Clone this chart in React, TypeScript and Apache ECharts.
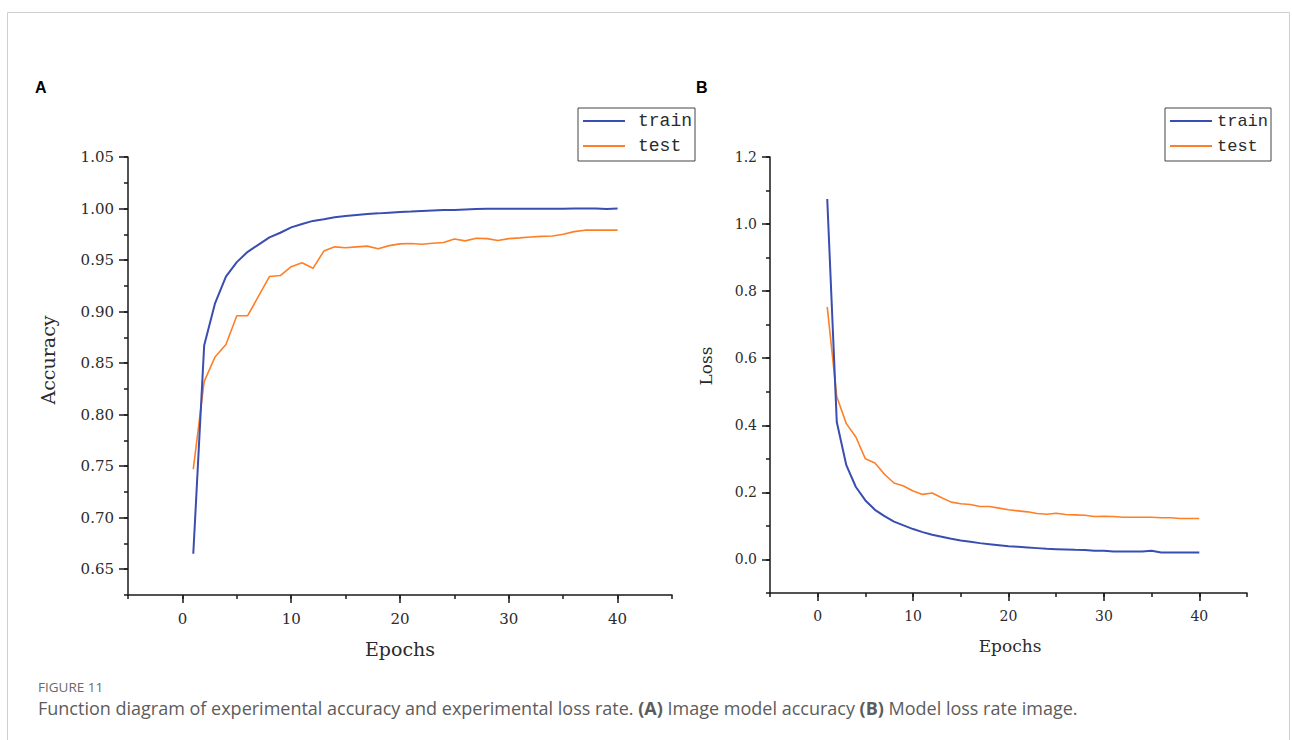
import React, { useEffect, useRef } from "react";
import * as echarts from "echarts";

const epochs = [1, 2, 3, 4, 5, 6, 7, 8, 9, 10, 11, 12, 13, 14, 15, 16, 17, 18, 19, 20, 21, 22, 23, 24, 25, 26, 27, 28, 29, 30, 31, 32, 33, 34, 35, 36, 37, 38, 39, 40];

const accTrain = [0.665, 0.867, 0.908, 0.934, 0.948, 0.958, 0.965, 0.972, 0.9765, 0.9817, 0.985, 0.988, 0.9895, 0.9915, 0.9927, 0.9937, 0.9947, 0.9953, 0.996, 0.9966, 0.997, 0.9975, 0.998, 0.9985, 0.9985, 0.999, 0.9995, 0.9998, 0.9998, 0.9998, 0.9998, 0.9998, 0.9998, 0.9998, 0.9998, 1.0, 1.0, 1.0, 0.9995, 1.0];
const accTest = [0.747, 0.832, 0.856, 0.868, 0.896, 0.896, 0.915, 0.934, 0.935, 0.9436, 0.9474, 0.942, 0.9587, 0.9628, 0.962, 0.9628, 0.9635, 0.961, 0.964, 0.9657, 0.966, 0.9654, 0.9663, 0.967, 0.9705, 0.9686, 0.9712, 0.9708, 0.9689, 0.9708, 0.9715, 0.9724, 0.973, 0.9734, 0.975, 0.9776, 0.979, 0.979, 0.979, 0.979];

const lossTrain = [1.075, 0.41, 0.281, 0.216, 0.176, 0.148, 0.129, 0.113, 0.1015, 0.0906, 0.0816, 0.0736, 0.0677, 0.0617, 0.0567, 0.0527, 0.0487, 0.0457, 0.0427, 0.0397, 0.0378, 0.0358, 0.0338, 0.0318, 0.0308, 0.0298, 0.0288, 0.0279, 0.0259, 0.0259, 0.0239, 0.0239, 0.0239, 0.0239, 0.0259, 0.0209, 0.0209, 0.0209, 0.0209, 0.0209];
const lossTest = [0.753, 0.485, 0.405, 0.365, 0.3, 0.2875, 0.254, 0.228, 0.219, 0.204, 0.194, 0.198, 0.184, 0.171, 0.166, 0.164, 0.158, 0.158, 0.153, 0.148, 0.145, 0.142, 0.137, 0.135, 0.138, 0.134, 0.133, 0.132, 0.128, 0.129, 0.128, 0.126, 0.126, 0.126, 0.126, 0.1244, 0.1244, 0.122, 0.122, 0.122];

const xTickLabels = [0, 10, 20, 30, 40];
const accTickLabels = [0.65, 0.7, 0.75, 0.8, 0.85, 0.9, 0.95, 1.0, 1.05];
const lossTickLabels = [0, 0.2, 0.4, 0.6, 0.8, 1.0, 1.2];

const seriesNames = ["train", "test"];
const panelLabels = ["A", "B"];
const axisTitles = { accY: "Accuracy", lossY: "Loss", x: "Epochs" };
const figureLabel = "FIGURE 11";

const BLUE = "#3a4db0";
const ORANGE = "#ff7f27";
const AXIS = "#1a1a1a";
const LABEL = "#2b2b2b";
const SERIF = "DejaVu Serif";

const pair = (vals: number[]) => epochs.map((e, i) => [e, vals[i]]);

export default function App() {
  const ref = useRef<HTMLDivElement>(null);
  useEffect(() => {
    if (!ref.current) return;
    const chart = echarts.init(ref.current, null, { renderer: "svg" });

    const minorX = (grid: number) => ({
      type: "value",
      gridIndex: grid,
      position: "bottom",
      min: -5,
      max: 45,
      interval: 5,
      axisLine: { show: true, onZero: false, lineStyle: { color: AXIS, width: 1.5 } },
      axisTick: { show: true, length: 4, lineStyle: { color: AXIS, width: 1.5 } },
      axisLabel: { show: false },
      splitLine: { show: false },
    });
    const majorX = (grid: number, fontSize: number) => ({
      type: "value",
      gridIndex: grid,
      position: "bottom",
      offset: 0,
      min: -5,
      max: 45,
      axisLine: { show: false, onZero: false },
      axisTick: { show: true, length: 8, customValues: xTickLabels, lineStyle: { color: AXIS, width: 1.5 } },
      axisLabel: {
        show: true,
        customValues: xTickLabels,
        margin: 16,
        color: LABEL,
        fontFamily: SERIF,
        fontSize,
      },
      splitLine: { show: false },
    });
    const legendBase = (left: number, fontSize: number, textPad: number) => ({
      orient: "vertical",
      left,
      top: 108,
      data: seriesNames,
      icon: "rect",
      itemWidth: 42,
      itemHeight: 2,
      itemGap: 7,
      padding: [4, 3, 6, 5],
      borderColor: "#444",
      borderWidth: 1,
      borderRadius: 0,
      selectedMode: false,
      textStyle: { fontFamily: "Liberation Mono", fontSize, lineHeight: 18, color: LABEL, padding: [0, 0, 0, textPad] },
    });

    const option: any = {
      animation: false,
      backgroundColor: "#ffffff",
      grid: [
        { left: 128, top: 157, width: 544, height: 438 },
        { left: 770, top: 157, width: 477, height: 436 },
      ],
      xAxis: [minorX(0), majorX(0, 15), minorX(1), majorX(1, 14)],
      yAxis: [
        {
          type: "value",
          gridIndex: 0,
          position: "left",
          min: 0.625,
          max: 1.05,
          interval: 0.025,
          axisLine: { show: true, onZero: false, lineStyle: { color: AXIS, width: 1.5 } },
          axisTick: { show: true, length: 4, lineStyle: { color: AXIS, width: 1.5 } },
          axisLabel: { show: false },
          splitLine: { show: false },
        },
        {
          type: "value",
          gridIndex: 0,
          position: "left",
          offset: 0,
          min: 0.625,
          max: 1.05,
          axisLine: { show: false, onZero: false },
          axisTick: { show: true, length: 9, customValues: accTickLabels, lineStyle: { color: AXIS, width: 1.5 } },
          axisLabel: {
            show: true,
            customValues: accTickLabels,
            formatter: (v: number) => v.toFixed(2),
            margin: 14,
            color: LABEL,
            fontFamily: SERIF,
            fontSize: 15,
          },
          splitLine: { show: false },
        },
        {
          type: "value",
          gridIndex: 1,
          position: "left",
          min: -0.1,
          max: 1.2,
          interval: 0.1,
          axisLine: { show: true, onZero: false, lineStyle: { color: AXIS, width: 1.5 } },
          axisTick: { show: true, length: 4, lineStyle: { color: AXIS, width: 1.5 } },
          axisLabel: { show: false },
          splitLine: { show: false },
        },
        {
          type: "value",
          gridIndex: 1,
          position: "left",
          offset: 0,
          min: -0.1,
          max: 1.2,
          axisLine: { show: false, onZero: false },
          axisTick: { show: true, length: 8, customValues: lossTickLabels, lineStyle: { color: AXIS, width: 1.5 } },
          axisLabel: {
            show: true,
            customValues: lossTickLabels,
            formatter: (v: number) => v.toFixed(1),
            margin: 13,
            color: LABEL,
            fontFamily: SERIF,
            fontSize: 14,
          },
          splitLine: { show: false },
        },
      ],
      legend: [legendBase(578, 18, 8), legendBase(1165, 17, 0)],
      series: [
        {
          name: seriesNames[0],
          type: "line",
          xAxisIndex: 0,
          yAxisIndex: 0,
          data: pair(accTrain),
          symbol: "none",
          lineStyle: { color: BLUE, width: 2 },
          itemStyle: { color: BLUE },
          z: 3,
        },
        {
          name: seriesNames[1],
          type: "line",
          xAxisIndex: 0,
          yAxisIndex: 0,
          data: pair(accTest),
          symbol: "none",
          lineStyle: { color: ORANGE, width: 1.6 },
          itemStyle: { color: ORANGE },
          z: 2,
        },
        {
          name: seriesNames[0],
          type: "line",
          xAxisIndex: 2,
          yAxisIndex: 2,
          data: pair(lossTrain),
          symbol: "none",
          lineStyle: { color: BLUE, width: 2 },
          itemStyle: { color: BLUE },
          z: 3,
        },
        {
          name: seriesNames[1],
          type: "line",
          xAxisIndex: 2,
          yAxisIndex: 2,
          data: pair(lossTest),
          symbol: "none",
          lineStyle: { color: ORANGE, width: 1.6 },
          itemStyle: { color: ORANGE },
          z: 2,
        },
      ],
      graphic: [
        {
          type: "rect",
          shape: { x: 7.5, y: 12.5, width: 1282, height: 800 },
          style: { fill: "none", stroke: "#cfcfcf", lineWidth: 1 },
          silent: true,
          z: -10,
        },
        {
          type: "text",
          x: 35,
          y: 79,
          style: { text: panelLabels[0], font: "bold 16px Arial, 'Liberation Sans', sans-serif", fill: "#000" },
        },
        {
          type: "text",
          x: 696,
          y: 79,
          style: { text: panelLabels[1], font: "bold 16px Arial, 'Liberation Sans', sans-serif", fill: "#000" },
        },
        {
          type: "text",
          x: 48,
          y: 360,
          rotation: Math.PI / 2,
          style: { text: axisTitles.accY, font: `19px '${SERIF}'`, fill: LABEL, align: "center", verticalAlign: "middle" },
        },
        {
          type: "text",
          x: 400,
          y: 649,
          style: { text: axisTitles.x, font: `19px '${SERIF}'`, fill: LABEL, align: "center", verticalAlign: "middle" },
        },
        {
          type: "text",
          x: 706,
          y: 366,
          rotation: Math.PI / 2,
          style: { text: axisTitles.lossY, font: `17px '${SERIF}'`, fill: LABEL, align: "center", verticalAlign: "middle" },
        },
        {
          type: "text",
          x: 1010,
          y: 646,
          style: { text: axisTitles.x, font: `17px '${SERIF}'`, fill: LABEL, align: "center", verticalAlign: "middle" },
        },
        {
          type: "text",
          x: 38,
          y: 680,
          style: { text: figureLabel, font: "13.5px 'Open Sans', sans-serif", fill: "#6a6a6a" },
        },
        {
          type: "text",
          x: 38,
          y: 699,
          style: {
            text: "Function diagram of experimental accuracy and experimental loss rate. {b|(A)} Image model accuracy {b|(B)} Model loss rate image.",
            font: "18px 'Open Sans', sans-serif",
            fill: "#5c5c5c",
            rich: { b: { fontWeight: "bold", fontFamily: "Open Sans", fontSize: 18, fill: "#5c5c5c" } },
          },
        },
      ],
    };
    chart.setOption(option);
    return () => chart.dispose();
  }, []);
  return <div ref={ref} style={{ position: "fixed", left: 0, top: 0, width: 1292, height: 740 }} />;
}
